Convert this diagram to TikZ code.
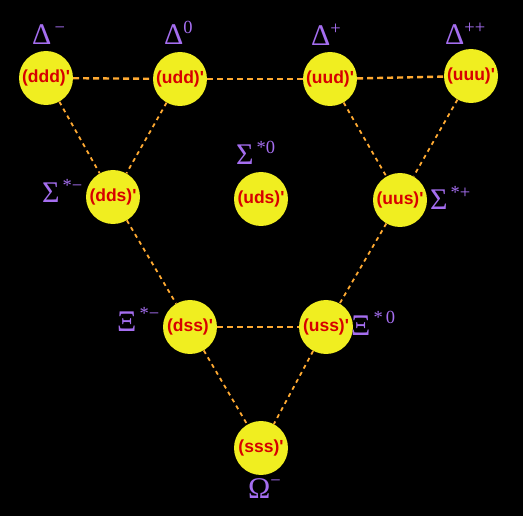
\documentclass[tikz,border=0pt]{standalone}
\usepackage{fontspec}
\newfontfamily\quarkfont{Liberation Sans}
\newfontfamily\lblfont{Liberation Serif}
\definecolor{ballY}{RGB}{240,238,32}
\definecolor{qred}{RGB}{215,0,0}
\definecolor{lblP}{RGB}{165,110,240}
\definecolor{lineO}{RGB}{255,170,50}
\newcommand{\hadlbl}[2]{{\lblfont\fontsize{30}{30}\selectfont #1}\raisebox{11.5pt}{\lblfont\fontsize{18.5}{18.5}\selectfont #2}}
\tikzset{
  ball/.style={circle,fill=ballY,minimum size=54pt,inner sep=0pt,
    font=\quarkfont\bfseries\fontsize{17.5}{17.5}\selectfont,text=qred},
  link/.style={draw=lineO,line width=2.4pt,dash pattern=on 6pt off 4pt},
  dlink/.style={draw=lineO,line width=1.8pt,dash pattern=on 4pt off 4pt},
  lbl/.style={text=lblP,inner sep=0pt,anchor=base west}
}
\begin{document}
\begin{tikzpicture}[x=1pt,y=-1pt]
\fill[black] (0,0) rectangle (523,516);
\useasboundingbox (0,0) rectangle (523,516);
\node[ball] (ddd) at (46,78) {(ddd)'};
\node[ball] (udd) at (180,79) {(udd)'};
\node[ball] (uud) at (330,79) {(uud)'};
\node[ball] (uuu) at (471,76) {(uuu)'};
\node[ball] (dds) at (113,197) {(dds)'};
\node[ball] (uds) at (261,199) {(uds)'};
\node[ball] (uus) at (400,200) {(uus)'};
\node[ball] (dss) at (190,327) {(dss)'};
\node[ball] (uss) at (326,327) {(uss)'};
\node[ball] (sss) at (261,448) {(sss)'};
\draw[link] (ddd) -- (udd);
\draw[link] (udd) -- (uud);
\draw[link] (uud) -- (uuu);
\draw[link] (dss) -- (uss);
\draw[dlink] (ddd) -- (dds);
\draw[dlink] (udd) -- (dds);
\draw[dlink] (dds) -- (dss);
\draw[dlink] (uud) -- (uus);
\draw[dlink] (uuu) -- (uus);
\draw[dlink] (uus) -- (uss);
\draw[dlink] (dss) -- (sss);
\draw[dlink] (uss) -- (sss);
\node[lbl] (lddd) at (32,45) {\hadlbl{Δ}{\,−}};
\node[lbl] (ludd) at (164,45) {\hadlbl{Δ}{0}};
\node[lbl] (luud) at (311,46) {\hadlbl{Δ}{+}};
\node[lbl] (luuu) at (445,45) {\hadlbl{Δ}{++}};
\node[lbl] (ldds) at (42,203) {\hadlbl{Σ}{\,*−}};
\node[lbl] (luds) at (236,165) {\hadlbl{Σ}{\,*0}};
\node[lbl] (luus) at (430,210) {\hadlbl{Σ}{\,*+}};
\node[lbl] (ldss) at (117,331) {\hadlbl{Ξ}{\,*−}};
\node[lbl] (luss) at (351,335) {\hadlbl{Ξ}{\,*\,0}};
\node[lbl] (lsss) at (248,498) {\hadlbl{Ω}{−}};
\end{tikzpicture}
\end{document}
